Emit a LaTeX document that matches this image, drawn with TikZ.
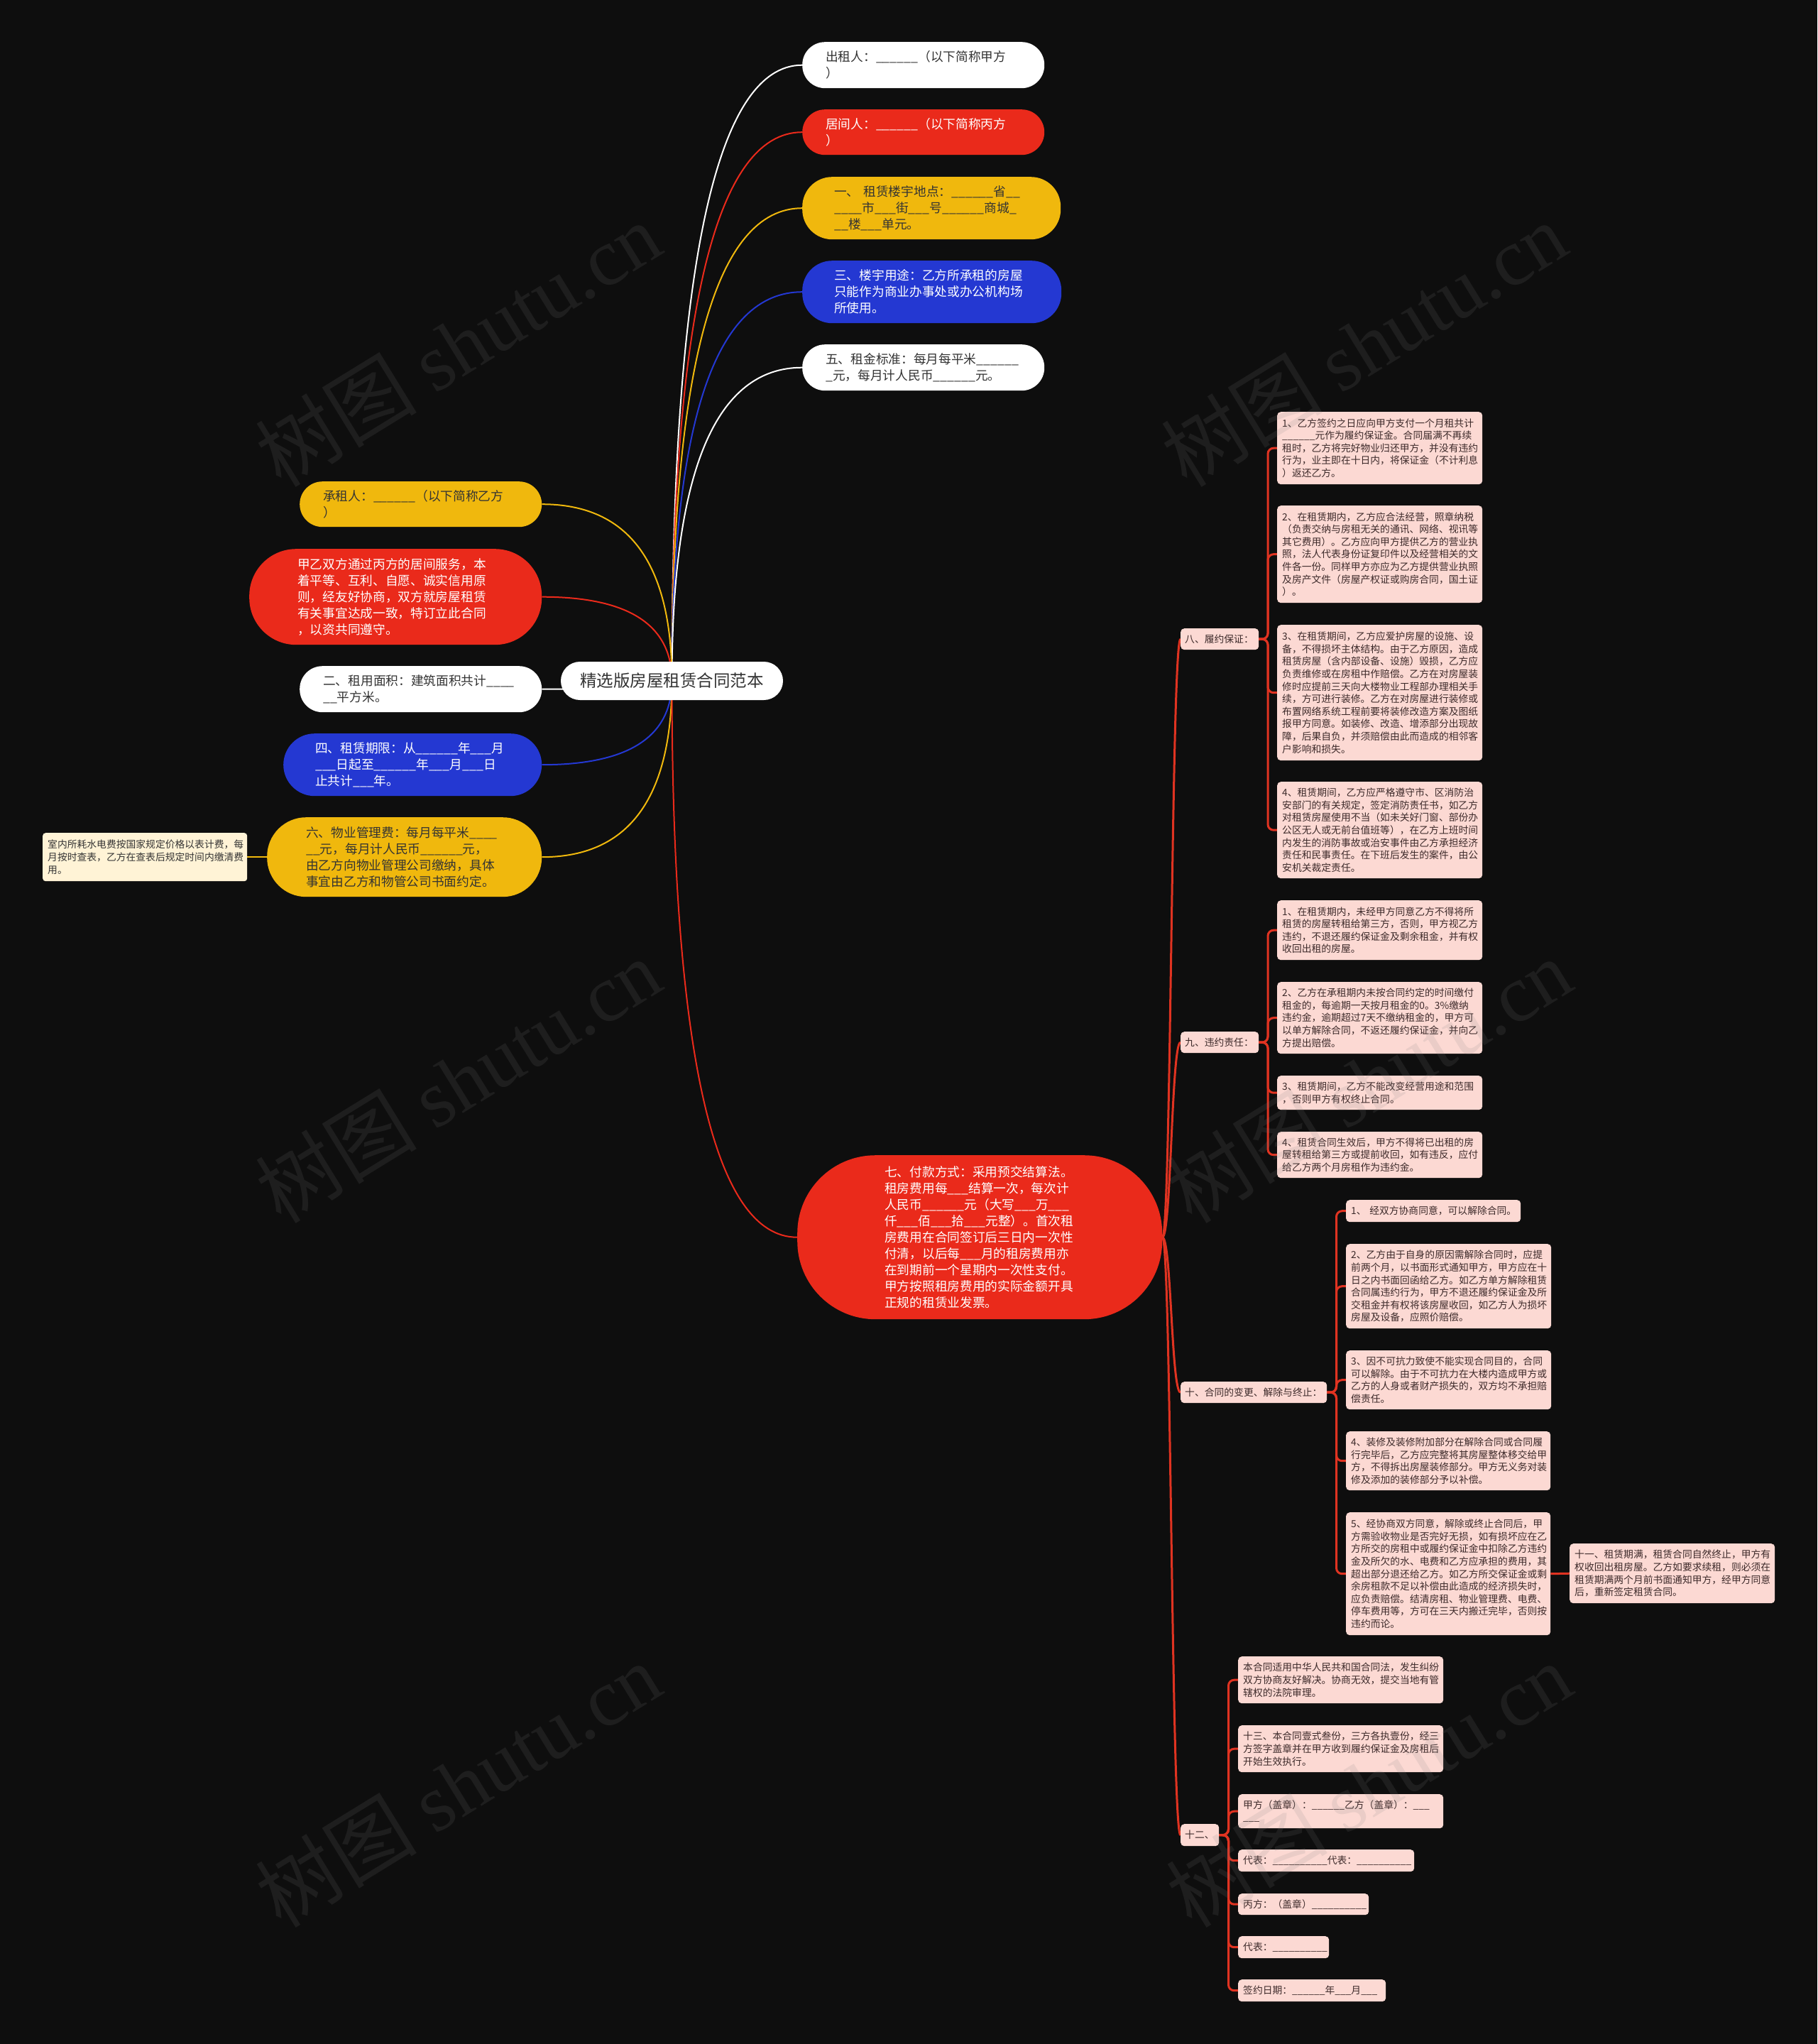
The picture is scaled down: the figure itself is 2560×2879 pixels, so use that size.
\documentclass[tikz,border=0pt]{standalone}
\usepackage{fontspec}
\setmainfont{Noto Sans CJK SC}
\newfontfamily\wmserif{Liberation Serif}
\usetikzlibrary{calc}
\definecolor{bgc}{HTML}{0E0E0E}
\definecolor{cred}{HTML}{EA2A1B}
\definecolor{cyel}{HTML}{F0B80D}
\definecolor{cblu}{HTML}{2438D2}
\definecolor{cpink}{HTML}{FCD9D3}
\definecolor{ccream}{HTML}{FFF3D6}
\definecolor{tdark}{HTML}{333333}
\definecolor{tpink}{HTML}{3D2A2A}
\definecolor{lred}{HTML}{E03321}
\pgfdeclarelayer{bg}
\pgfsetlayers{bg,main}
\newcommand\fbig{\fontsize{17.7}{23}\selectfont}
\newcommand\fsm{\fontsize{13.8}{17.6}\selectfont}
\newcommand\mkbox[8]{%
  \pgfmathsetmacro\bw{#5-#3}\pgfmathsetmacro\bh{#6-#4}\pgfmathsetmacro\tw{#5-#3-2*#7}%
  \node[#2, anchor=north west, minimum width=\bw pt, minimum height=\bh pt,
        text width=\tw pt, inner xsep=#7pt, inner ysep=0pt, align=left] (#1) at (#3,#4) {#8};}
\newcommand\ccv[3]{\draw[#1] (#2) .. controls ($(#2)!0.667!(#2 |- #3)$) and ($(#3)!0.667!(#2 |- #3)$) .. (#3);}
\newcommand\spn[2]{\draw[rl] (#1.east) .. controls (mx |- #1.east) and (mx |- #2.west) .. (#2.west);}
\newcommand\brl[3]{\draw[rl, rounded corners=8pt] (#1.east) -- (#2 |- #1.east) |- (#3.west);}
\tikzset{
  pw/.style={fill=white, text=tdark, font=\fbig},
  pr/.style={fill=cred, text=white, font=\fbig},
  py/.style={fill=cyel, text=tdark, font=\fbig},
  pb/.style={fill=cblu, text=white, font=\fbig},
  pk/.style={fill=cpink, text=tpink, font=\fsm, rounded corners=5pt},
  cr/.style={fill=ccream, text=tdark, font=\fsm, rounded corners=4pt},
  cl/.style={line width=2pt},
  rl/.style={draw=lred, line width=3pt},
  wm/.style={text=gray, opacity=0.14, rotate=31.6, inner sep=0pt, font=\fontsize{114}{118}\selectfont}
}
\catcode`\_=12
\begin{document}
\begin{tikzpicture}[x=1pt,y=-1pt]
\useasboundingbox (0,0) rectangle (2560,2879);
% center
\node[fill=white, text=tdark, font=\fontsize{23.5}{28}\selectfont, minimum width=313pt, minimum height=54pt, rounded corners=27pt, inner sep=0pt] (ctr) at (946.5,959) {精选版房屋租赁合同范本};
% right top
\mkbox{n1}{pw, rounded corners=32pt}{1130}{59}{1471}{124}{33}{出租人：______（以下简称甲方\\）}
\mkbox{n2}{pr, rounded corners=32pt}{1130}{154}{1471}{218}{33}{居间人：______（以下简称丙方\\）}
\mkbox{n3}{py, rounded corners=42pt}{1130}{249}{1494}{337}{45}{一、~租赁楼宇地点：______省__\\____市___街___号______商城_\\__楼___单元。}
\mkbox{n4}{pb, rounded corners=42pt}{1130}{367}{1495}{455}{45}{三、楼宇用途：乙方所承租的房屋\\只能作为商业办事处或办公机构场\\所使用。}
\mkbox{n5}{pw, rounded corners=32pt}{1130}{485}{1471}{550}{33}{五、租金标准：每月每平米______\\_元，每月计人民币______元。}
% left
\mkbox{l1}{py, rounded corners=32pt}{422}{678}{763}{742}{33}{承租人：______（以下简称乙方\\）}
\mkbox{l2}{pr, rounded corners=66pt}{351}{773}{763}{908}{68}{甲乙双方通过丙方的居间服务，本\\着平等、互利、自愿、诚实信用原\\则，经友好协商，双方就房屋租赁\\有关事宜达成一致，特订立此合同\\，以资共同遵守。}
\mkbox{l3}{pw, rounded corners=32pt}{422}{938}{763}{1003}{33}{二、租用面积：建筑面积共计____\\__平方米。}
\mkbox{l4}{pb, rounded corners=44pt}{399}{1033}{763}{1121}{45}{四、租赁期限：从______年___月\\___日起至______年___月___日\\止共计___年。}
\mkbox{l5}{py, rounded corners=55pt}{376}{1151}{763}{1263}{55}{六、物业管理费：每月每平米____\\__元，每月计人民币______元，\\由乙方向物业管理公司缴纳，具体\\事宜由乙方和物管公司书面约定。}
\mkbox{l6}{cr}{60}{1173}{348}{1241}{7}{室内所耗水电费按国家规定价格以表计费，每\\月按时查表，乙方在查表后规定时间内缴清费\\用。}
% payment
\mkbox{p7}{pr, rounded corners=110pt}{1123}{1627}{1637}{1858}{123}{七、付款方式：采用预交结算法。\\租房费用每___结算一次，每次计\\人民币______元（大写___万___\\仟___佰___拾___元整）。首次租\\房费用在合同签订后三日内一次性\\付清，以后每___月的租房费用亦\\在到期前一个星期内一次性支付。\\甲方按照租房费用的实际金额开具\\正规的租赁业发票。}
% labels
\mkbox{k8}{pk}{1663}{885}{1773}{915}{6}{八、履约保证：}
\mkbox{k9}{pk}{1663}{1453}{1773}{1483}{6}{九、违约责任：}
\mkbox{k10}{pk}{1663}{1946}{1869}{1976}{6}{十、合同的变更、解除与终止：}
\mkbox{k12}{pk}{1663}{2569}{1717}{2600}{6}{十二、}
% eight
\mkbox{a1}{pk}{1799}{580}{2088}{682}{7}{1、乙方签约之日应向甲方支付一个月租共计\\______元作为履约保证金。合同届满不再续\\租时，乙方将完好物业归还甲方，并没有违约\\行为，业主即在十日内，将保证金（不计利息\\）返还乙方。}
\mkbox{a2}{pk}{1799}{712}{2088}{849}{7}{2、在租赁期内，乙方应合法经营，照章纳税\\（负责交纳与房租无关的通讯、网络、视讯等\\其它费用）。乙方应向甲方提供乙方的营业执\\照，法人代表身份证复印件以及经营相关的文\\件各一份。同样甲方亦应为乙方提供营业执照\\及房产文件（房屋产权证或购房合同，国土证\\）。}
\mkbox{a3}{pk}{1799}{880}{2088}{1071}{7}{3、在租赁期间，乙方应爱护房屋的设施、设\\备，不得损坏主体结构。由于乙方原因，造成\\租赁房屋（含内部设备、设施）毁损，乙方应\\负责维修或在房租中作赔偿。乙方在对房屋装\\修时应提前三天向大楼物业工程部办理相关手\\续，方可进行装修。乙方在对房屋进行装修或\\布置网络系统工程前要将装修改造方案及图纸\\报甲方同意。如装修、改造、增添部分出现故\\障，后果自负，并须赔偿由此而造成的相邻客\\户影响和损失。}
\mkbox{a4}{pk}{1799}{1101}{2088}{1237}{7}{4、租赁期间，乙方应严格遵守市、区消防治\\安部门的有关规定，签定消防责任书，如乙方\\对租赁房屋使用不当（如未关好门窗、部份办\\公区无人或无前台值班等），在乙方上班时间\\内发生的消防事故或治安事件由乙方承担经济\\责任和民事责任。在下班后发生的案件，由公\\安机关裁定责任。}
% nine
\mkbox{b1}{pk}{1799}{1268}{2088}{1352}{7}{1、在租赁期内，未经甲方同意乙方不得将所\\租赁的房屋转租给第三方，否则，甲方视乙方\\违约，不退还履约保证金及剩余租金，并有权\\收回出租的房屋。}
\mkbox{b2}{pk}{1799}{1383}{2088}{1484}{7}{2、乙方在承租期内未按合同约定的时间缴付\\租金的，每逾期一天按月租金的0。3\%缴纳\\违约金，逾期超过7天不缴纳租金的，甲方可\\以单方解除合同，不返还履约保证金，并向乙\\方提出赔偿。}
\mkbox{b3}{pk}{1799}{1515}{2088}{1563}{7}{3、租赁期间，乙方不能改变经营用途和范围\\，否则甲方有权终止合同。}
\mkbox{b4}{pk}{1799}{1594}{2088}{1659}{7}{4、租赁合同生效后，甲方不得将已出租的房\\屋转租给第三方或提前收回，如有违反，应付\\给乙方两个月房租作为违约金。}
% ten
\mkbox{c1}{pk}{1896}{1690}{2142}{1721}{7}{1、~经双方协商同意，可以解除合同。}
\mkbox{c2}{pk}{1896}{1752}{2185}{1871}{7}{2、乙方由于自身的原因需解除合同时，应提\\前两个月，以书面形式通知甲方，甲方应在十\\日之内书面回函给乙方。如乙方单方解除租赁\\合同属违约行为，甲方不退还履约保证金及所\\交租金并有权将该房屋收回，如乙方人为损坏\\房屋及设备，应照价赔偿。}
\mkbox{c3}{pk}{1896}{1902}{2185}{1985}{7}{3、因不可抗力致使不能实现合同目的，合同\\可以解除。由于不可抗力在大楼内造成甲方或\\乙方的人身或者财产损失的，双方均不承担赔\\偿责任。}
\mkbox{c4}{pk}{1896}{2016}{2184}{2099}{7}{4、装修及装修附加部分在解除合同或合同履\\行完毕后，乙方应完整将其房屋整体移交给甲\\方，不得拆出房屋装修部分。甲方无义务对装\\修及添加的装修部分予以补偿。}
\mkbox{c5}{pk}{1896}{2130}{2184}{2303}{7}{5、经协商双方同意，解除或终止合同后，甲\\方需验收物业是否完好无损，如有损坏应在乙\\方所交的房租中或履约保证金中扣除乙方违约\\金及所欠的水、电费和乙方应承担的费用，其\\超出部分退还给乙方。如乙方所交保证金或剩\\余房租款不足以补偿由此造成的经济损失时，\\应负责赔偿。结清房租、物业管理费、电费、\\停车费用等，方可在三天内搬迁完毕，否则按\\违约而论。}
\mkbox{d1}{pk}{2211}{2174}{2500}{2258}{7}{十一、租赁期满，租赁合同自然终止，甲方有\\权收回出租房屋。乙方如要求续租，则必须在\\租赁期满两个月前书面通知甲方，经甲方同意\\后，重新签定租赁合同。}
% twelve
\mkbox{e1}{pk}{1744}{2333}{2033}{2399}{7}{本合同适用中华人民共和国合同法，发生纠纷\\双方协商友好解决。协商无效，提交当地有管\\辖权的法院审理。}
\mkbox{e2}{pk}{1744}{2430}{2033}{2496}{7}{十三、本合同壹式叁份，三方各执壹份，经三\\方签字盖章并在甲方收到履约保证金及房租后\\开始生效执行。}
\mkbox{e3}{pk}{1744}{2527}{2033}{2575}{7}{甲方（盖章）：______乙方（盖章）：___\\___}
\mkbox{e4}{pk}{1744}{2605}{1992}{2636}{7}{代表：__________代表：__________}
\mkbox{e5}{pk}{1744}{2667}{1928}{2697}{7}{丙方：（盖章）__________}
\mkbox{e6}{pk}{1744}{2727}{1872}{2758}{7}{代表：__________}
\mkbox{e7}{pk}{1744}{2788}{1952}{2819}{7}{签约日期：______年___月___}
\coordinate (mx) at (1650,0);
\coordinate (s8) at (1786,0);
\coordinate (s10) at (1882.5,0);
\coordinate (s12) at (1730.5,0);
\begin{pgfonlayer}{bg}
\fill[bgc] (0,0) rectangle (2560,2879);
\ccv{cl, white}{ctr.center}{n1.west}
\ccv{cl, cred}{ctr.center}{n2.west}
\ccv{cl, cyel}{ctr.center}{n3.west}
\ccv{cl, cblu}{ctr.center}{n4.west}
\ccv{cl, white}{ctr.center}{n5.west}
\ccv{cl, cyel}{ctr.center}{l1.east}
\ccv{cl, cred}{ctr.center}{l2.east}
\ccv{cl, white}{ctr.center}{l3.east}
\ccv{cl, cblu}{ctr.center}{l4.east}
\ccv{cl, cyel}{ctr.center}{l5.east}
\ccv{cl, cred}{ctr.center}{p7.west}
\draw[cl, cyel] (l5.west) -- (l6.east);
\spn{p7}{k8}
\spn{p7}{k9}
\spn{p7}{k10}
\spn{p7}{k12}
\brl{k8}{s8}{a1}
\brl{k8}{s8}{a2}
\brl{k8}{s8}{a3}
\brl{k8}{s8}{a4}
\brl{k9}{s8}{b1}
\brl{k9}{s8}{b2}
\brl{k9}{s8}{b3}
\brl{k9}{s8}{b4}
\brl{k10}{s10}{c1}
\brl{k10}{s10}{c2}
\brl{k10}{s10}{c3}
\brl{k10}{s10}{c4}
\brl{k10}{s10}{c5}
\draw[rl] (c5.east) -- (d1.west);
\brl{k12}{s12}{e1}
\brl{k12}{s12}{e2}
\brl{k12}{s12}{e3}
\brl{k12}{s12}{e4}
\brl{k12}{s12}{e5}
\brl{k12}{s12}{e6}
\brl{k12}{s12}{e7}
\end{pgfonlayer}
% watermarks
\node[wm] (w1) at (645,485) {树图 {\wmserif shutu.cn}};
\node[wm] (w2) at (1921,485) {树图 {\wmserif shutu.cn}};
\node[wm] (w3) at (645,1522) {树图 {\wmserif shutu.cn}};
\node[wm] (w4) at (1928,1522) {树图 {\wmserif shutu.cn}};
\node[wm] (w5) at (645,2514) {树图 {\wmserif shutu.cn}};
\node[wm] (w6) at (1928,2514) {树图 {\wmserif shutu.cn}};
\end{tikzpicture}
\end{document}
